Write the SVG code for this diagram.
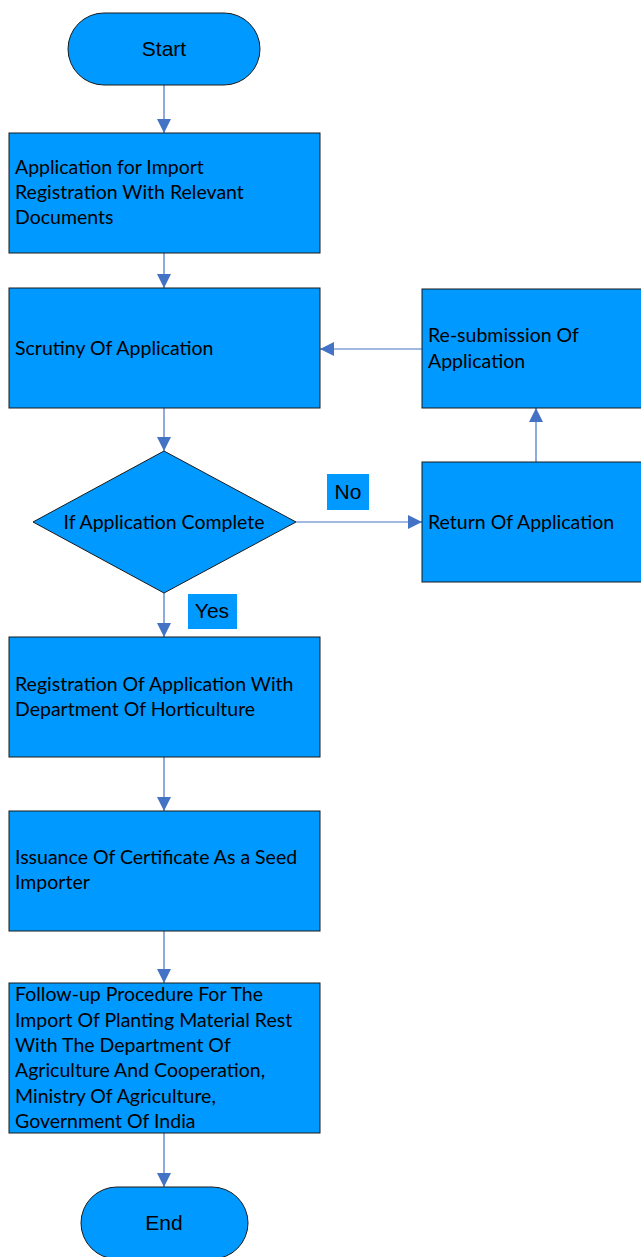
<svg xmlns="http://www.w3.org/2000/svg" width="641" height="1257" viewBox="0 0 641 1257">
<defs>
<marker id="ah" markerWidth="14" markerHeight="14" refX="14" refY="7" orient="auto" markerUnits="userSpaceOnUse">
<path d="M0,0 L14,7 L0,14 Z" fill="#4472C4"/>
</marker>
<style>
.box{fill:#0099FF;stroke:#1a1a1a;stroke-width:1}
.t{font-family:Lato,"Noto Sans",sans-serif;font-size:19.5px;fill:#000}
.a{font-family:"Liberation Sans",Arial,sans-serif;font-size:21px;fill:#000;text-anchor:middle}
.c{stroke:#4472C4;stroke-width:1.2;fill:none;marker-end:url(#ah)}
.lbl{fill:#0099FF}
</style>
</defs>
<rect width="641" height="1257" fill="#fff"/>
<g id="connectors">
<line class="c" x1="164" y1="85" x2="164" y2="133"/>
<line class="c" x1="164" y1="253" x2="164" y2="288"/>
<line class="c" x1="164" y1="408" x2="164" y2="451"/>
<line class="c" x1="296" y1="522" x2="422" y2="522"/>
<line class="c" x1="536" y1="462" x2="536" y2="408"/>
<line class="c" x1="422" y1="349" x2="320" y2="349"/>
<line class="c" x1="164" y1="593" x2="164" y2="637"/>
<line class="c" x1="164" y1="757" x2="164" y2="811"/>
<line class="c" x1="164" y1="931" x2="164" y2="983"/>
<line class="c" x1="164" y1="1133" x2="164" y2="1187"/>
</g>
<g id="start">
<rect class="box" x="68" y="13" width="192" height="72" rx="36"/>
<text class="a" x="164" y="56">Start</text>
</g>
<g id="application">
<rect class="box" x="9" y="133" width="311" height="120"/>
<text class="t" x="15" y="174">Application for Import</text>
<text class="t" x="15" y="199">Registration With Relevant</text>
<text class="t" x="15" y="224">Documents</text>
</g>
<g id="scrutiny">
<rect class="box" x="9" y="288" width="311" height="120"/>
<text class="t" x="15" y="355">Scrutiny Of Application</text>
</g>
<g id="resubmission">
<rect class="box" x="422" y="289" width="311" height="119"/>
<text class="t" x="428" y="342">Re-submission Of</text>
<text class="t" x="428" y="368">Application</text>
</g>
<g id="decision">
<polygon class="box" points="164,451 296,522 164,593 33,522"/>
<text class="t" x="164" y="529" text-anchor="middle">If Application Complete</text>
</g>
<g id="no-label">
<rect class="lbl" x="327" y="474" width="42" height="36"/>
<text class="a" x="348" y="499">No</text>
</g>
<g id="return">
<rect class="box" x="422" y="462" width="311" height="120"/>
<text class="t" x="428" y="529">Return Of Application</text>
</g>
<g id="yes-label">
<rect class="lbl" x="188" y="594" width="49" height="35"/>
<text class="a" x="212" y="618">Yes</text>
</g>
<g id="registration">
<rect class="box" x="9" y="637" width="311" height="120"/>
<text class="t" x="15" y="691">Registration Of Application With</text>
<text class="t" x="15" y="716">Department Of Horticulture</text>
</g>
<g id="issuance">
<rect class="box" x="9" y="811" width="311" height="120"/>
<text class="t" x="15" y="864">Issuance Of Certificate As a Seed</text>
<text class="t" x="15" y="889">Importer</text>
</g>
<g id="followup">
<rect class="box" x="9" y="983" width="311" height="150"/>
<text class="t" x="15" y="1001">Follow-up Procedure For The</text>
<text class="t" x="15" y="1027">Import Of Planting Material Rest</text>
<text class="t" x="15" y="1052">With The Department Of</text>
<text class="t" x="15" y="1077">Agriculture And Cooperation,</text>
<text class="t" x="15" y="1103">Ministry Of Agriculture,</text>
<text class="t" x="15" y="1128">Government Of India</text>
</g>
<g id="end">
<rect class="box" x="81" y="1187" width="167" height="72" rx="36"/>
<text class="a" x="164" y="1230">End</text>
</g>
</svg>
